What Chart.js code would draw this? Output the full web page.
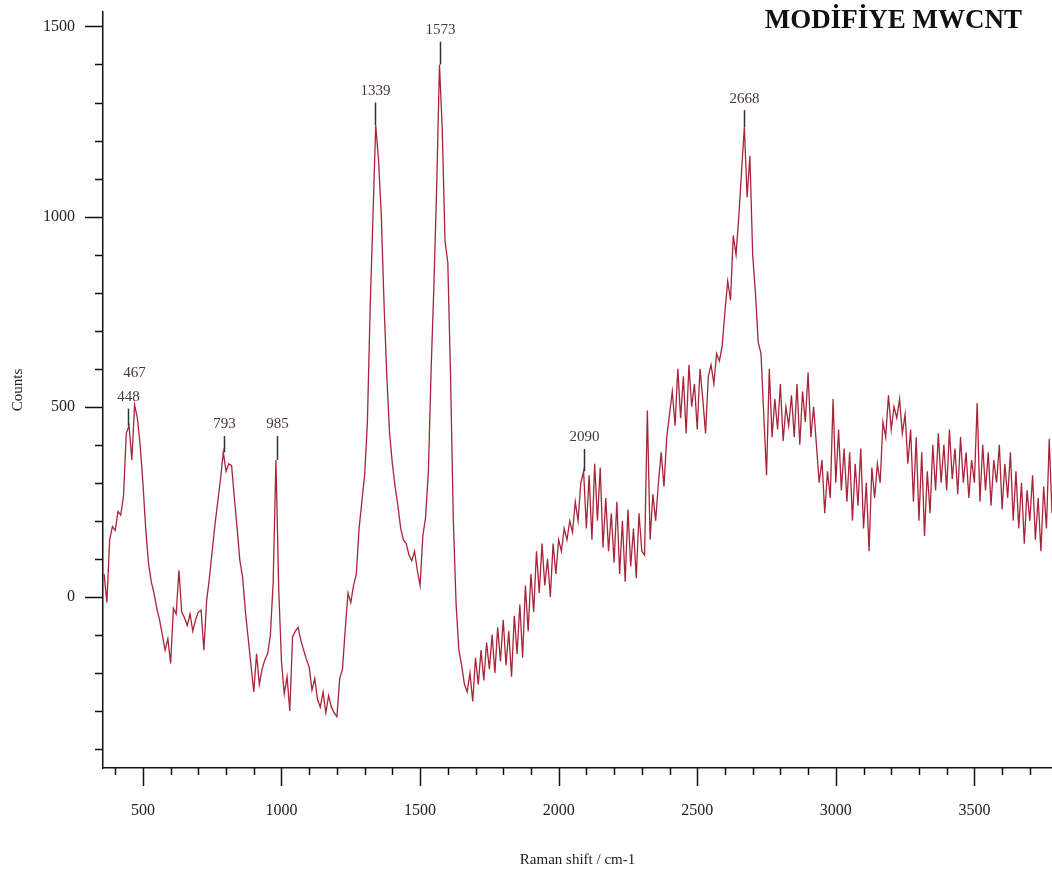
<!DOCTYPE html>
<html>
<head>
<meta charset="utf-8">
<script src="https://cdn.jsdelivr.net/npm/chart.js@4.4.0/dist/chart.umd.min.js"></script>
<style>
  html, body { margin: 0; padding: 0; background: #fff; }
  #wrap { width: 1052px; height: 879px; }
</style>
</head>
<body>
<div id="wrap"><canvas id="raman"></canvas></div>
<script>
// sampling grid of the spectrum (cm-1)
const shiftStart = 360;
const shiftStep = 10;

// counts, 10 cm-1 apart
const countsLow = [ // 360 - 1250
  60, -15, 150, 185, 175, 225, 215, 265, 430, 450,
  360, 505, 470, 400, 300, 180, 90, 40, 10, -30,
  -60, -100, -140, -110, -175, -30, -45, 70, -40, -55,
  -75, -45, -90, -60, -40, -35, -140, -10, 50, 120,
  190, 250, 310, 380, 330, 350, 345, 260, 180, 95,
  50, -40, -110, -180, -250, -150, -230, -190, -165, -150,
  -100, 40, 360, 20, -170, -255, -210, -300, -105, -90,
  -80, -115, -140, -165, -185, -245, -215, -270, -290, -250,
  -305, -260, -290, -305, -315, -215, -190, -85, 10, -15
];
const countsDG = [ // 1260 - 1750
  30, 60, 180, 250, 320, 460, 760, 1000, 1240, 1150,
  1005, 770, 580, 430, 350, 290, 240, 180, 150, 140,
  110, 95, 120, 70, 30, 160, 210, 330, 600, 820,
  1080, 1400, 1230, 935, 880, 580, 200, -20, -140, -180,
  -230, -250, -200, -275, -160, -230, -140, -220, -120, -190
];
const countsMid = [ // 1760 - 2550
  -100, -200, -80, -170, -60, -180, -90, -210, -50, -150,
  -20, -160, 30, -90, 60, -40, 120, 10, 140, 30,
  100, 0, 140, 60, 150, 120, 180, 150, 200, 170,
  250, 200, 300, 330, 180, 320, 150, 350, 200, 340,
  130, 260, 120, 220, 90, 250, 60, 200, 40, 230,
  80, 180, 50, 220, 120, 110, 490, 150, 270, 200,
  300, 380, 290, 420, 480, 540, 450, 600, 470, 580,
  430, 610, 500, 560, 440, 600, 520, 430, 580, 610
];
const counts2D = [ // 2560 - 2850
  560, 640, 620, 660, 750, 830, 780, 950, 900, 1000,
  1120, 1235, 1050, 1160, 900, 800, 670, 640, 480, 320,
  600, 420, 520, 440, 560, 410, 500, 450, 530, 420
];
const countsHigh = [ // 2860 - 3780
  560, 400, 540, 460, 590, 420, 500, 400, 300, 360,
  220, 330, 260, 520, 300, 440, 280, 390, 250, 380,
  200, 350, 240, 390, 180, 300, 120, 340, 260, 350,
  300, 460, 420, 530, 440, 500, 470, 520, 430, 480,
  350, 440, 250, 420, 200, 380, 160, 330, 220, 400,
  280, 430, 300, 400, 280, 440, 310, 390, 270, 420,
  300, 380, 260, 360, 300, 510, 250, 400, 280, 380,
  240, 360, 300, 400, 230, 350, 260, 380, 200, 330,
  180, 300, 140, 280, 200, 320, 150, 260, 120, 290,
  180, 415, 220
];

// peak picks: position and height of the marker line top
const peakShift = [448, 467, 793, 985, 1339, 1573, 2090, 2668];
const peakMarker = [495, 505, 423, 423, 1300, 1460, 389, 1280];

const counts = [...countsLow, ...countsDG, ...countsMid, ...counts2D, ...countsHigh];
const spectrum = counts.map((c, i) => ({ x: shiftStart + i * shiftStep, y: c }));

const serif = '"Liberation Serif", "Times New Roman", serif';

// nearest sampled maximum around a picked peak
function localMax(shift) {
  const i = Math.round((shift - shiftStart) / shiftStep);
  return Math.max(counts[i - 1] ?? -1e9, counts[i], counts[i + 1] ?? -1e9);
}

const axisTicks = {
  id: 'axisTicks',
  afterDraw(chart) {
    const { ctx, chartArea, scales: { x, y } } = chart;
    ctx.save();
    ctx.strokeStyle = '#111';
    ctx.lineWidth = 1.5;
    ctx.beginPath();
    x.ticks.forEach(t => {
      if (t.value % 100 !== 0) return;
      const px = Math.round(x.getPixelForValue(t.value)) + 0.5;
      const len = t.value % 500 === 0 ? 18 : 7;
      ctx.moveTo(px, chartArea.bottom);
      ctx.lineTo(px, chartArea.bottom + len);
    });
    y.ticks.forEach(t => {
      if (t.value % 100 !== 0) return;
      const py = Math.round(y.getPixelForValue(t.value)) + 0.5;
      const len = t.value % 500 === 0 ? 18 : 8;
      ctx.moveTo(chartArea.left - len, py);
      ctx.lineTo(chartArea.left, py);
    });
    ctx.stroke();
    ctx.restore();
  }
};

const peakLabels = {
  id: 'peakLabels',
  afterDatasetsDraw(chart) {
    const { ctx, scales: { x, y } } = chart;
    ctx.save();
    ctx.font = '15px ' + serif;
    ctx.textAlign = 'center';
    ctx.textBaseline = 'bottom';
    ctx.strokeStyle = '#333';
    ctx.lineWidth = 1.5;
    peakShift.forEach((s, i) => {
      const px = Math.round(x.getPixelForValue(s)) + 0.5;
      const top = y.getPixelForValue(peakMarker[i]);
      const base = y.getPixelForValue(localMax(s));
      if (base > top) {
        ctx.beginPath();
        ctx.moveTo(px, top);
        ctx.lineTo(px, base);
        ctx.stroke();
      }
      const lift = s === 467 ? 20 : 0; // 467 sits above 448
      ctx.fillStyle = '#4a3539';
      ctx.fillText(String(s), px, top - 4 - lift);
    });
    ctx.restore();
  }
};

const cornerTitle = {
  id: 'cornerTitle',
  afterDraw(chart) {
    const { ctx } = chart;
    ctx.save();
    ctx.font = 'bold 27px ' + serif;
    ctx.fillStyle = '#111';
    ctx.textAlign = 'right';
    ctx.textBaseline = 'middle';
    ctx.fillText('MODİFİYE MWCNT', 1022, 21);
    ctx.restore();
  }
};

new Chart(document.getElementById('raman'), {
  type: 'line',
  data: {
    datasets: [{
      label: 'Counts',
      data: spectrum,
      borderColor: '#a82438',
      borderWidth: 1.3,
      pointRadius: 0,
      fill: false
    }]
  },
  options: {
    responsive: true,
    maintainAspectRatio: false,
    animation: false,
    layout: { padding: { top: 12, right: 0, left: 0, bottom: 0 } },
    plugins: {
      legend: { display: false },
      tooltip: { enabled: false }
    },
    scales: {
      x: {
        type: 'linear',
        min: 356,
        max: 3780,
        afterFit(scale) {
          scale.height = 111;
          scale.paddingLeft = 0;
          scale.paddingRight = 0;
        },
        grid: { display: false, drawTicks: false },
        border: { display: true, color: '#111', width: 1.5 },
        ticks: {
          stepSize: 100,
          includeBounds: false,
          autoSkip: false,
          maxRotation: 0,
          padding: 33,
          color: '#222',
          font: { family: serif, size: 16 },
          callback: v => (v % 500 === 0 ? v : '')
        },
        title: {
          display: true,
          text: 'Raman shift / cm-1',
          color: '#222',
          font: { family: serif, size: 15 },
          padding: { top: 0, bottom: 10 }
        }
      },
      y: {
        min: -450,
        max: 1538,
        afterFit(scale) {
          scale.width = 103;
          scale.paddingTop = 0;
          scale.paddingBottom = 0;
        },
        grid: { display: false, drawTicks: false },
        border: { display: true, color: '#111', width: 1.5 },
        ticks: {
          stepSize: 100,
          includeBounds: false,
          autoSkip: false,
          padding: 28,
          color: '#222',
          font: { family: serif, size: 16 },
          callback: v => (v % 500 === 0 ? v : '')
        },
        title: {
          display: true,
          text: 'Counts',
          color: '#222',
          font: { family: serif, size: 15 },
          padding: { top: 9, bottom: 0 }
        }
      }
    }
  },
  plugins: [axisTicks, peakLabels, cornerTitle]
});
</script>
</body>
</html>
